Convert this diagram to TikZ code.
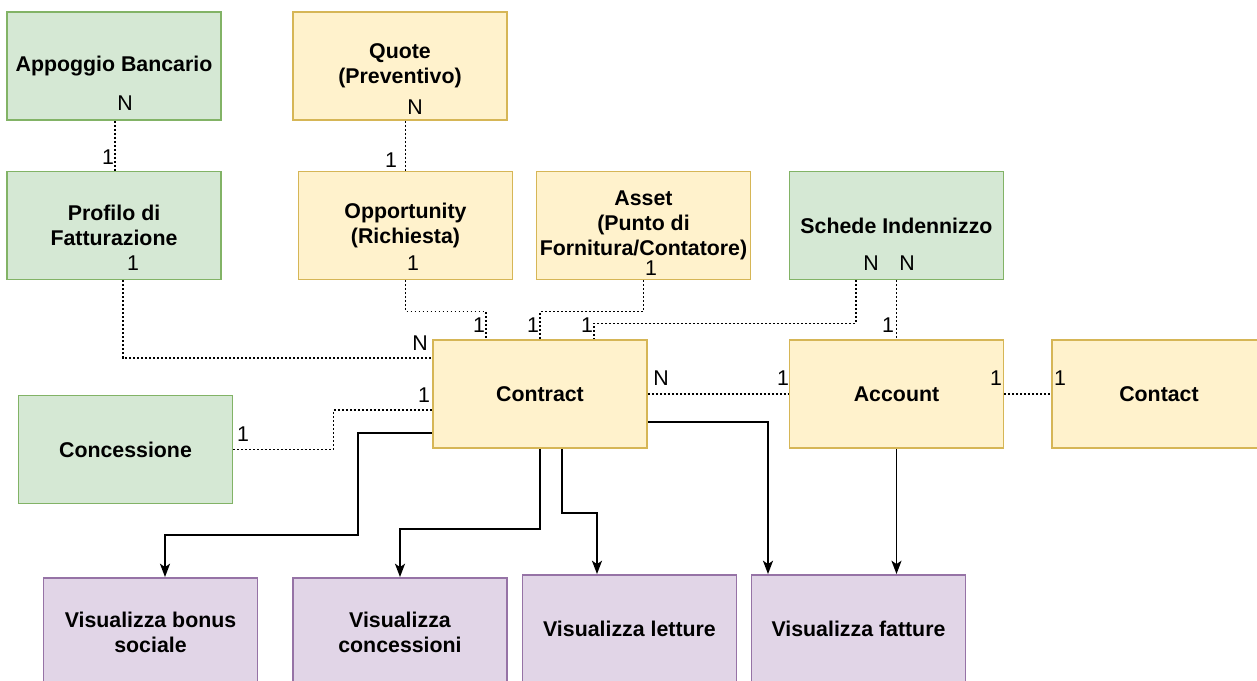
\documentclass[tikz,border=0pt]{standalone}
\usepackage{fontspec}
\setmainfont{Liberation Sans}
\usetikzlibrary{calc,arrows.meta}
\definecolor{gfill}{HTML}{D5E8D4}\definecolor{gline}{HTML}{82B366}
\definecolor{yfill}{HTML}{FFF2CC}\definecolor{yline}{HTML}{D6B656}
\definecolor{pfill}{HTML}{E1D5E7}\definecolor{pline}{HTML}{9673A6}
\tikzset{
  box/.style={draw, line width=1.4pt, minimum width=160.5pt, minimum height=81pt, inner sep=0pt,
    align=center, font=\fontsize{16}{18.75}\selectfont\bfseries},
  gbox/.style={box, fill=gfill, draw=gline},
  ybox/.style={box, fill=yfill, draw=yline},
  pbox/.style={box, fill=pfill, draw=pline},
  rel/.style={line width=1.4pt, dash pattern=on 1.2pt off 1.8pt},
  arr/.style={line width=1.4pt, -{Stealth[length=10pt,width=7.5pt,inset=2.5pt]}},
  lbl/.style={inner sep=0pt, font=\fontsize{16}{18.75}\selectfont}
}
\begin{document}
\begin{tikzpicture}[x=0.75pt,y=-0.75pt]
\useasboundingbox (0,0) rectangle (1257,681);
\clip (0,0) rectangle (1257,681);
\fill[white] (0,0) rectangle (1257,681);
% boxes
\node[gbox] (app) at (114,66) {Appoggio Bancario};
\node[gbox] (prof) at (114,225.5) {Profilo di\\Fatturazione};
\node[ybox] (quote) at (400,66) {Quote\\(Preventivo)};
\node[ybox] (opp) at (405.5,225.5) {Opportunity\\(Richiesta)};
\node[ybox] (asset) at (643.5,225.5) {Asset\\(Punto di\\Fornitura/Contatore)};
\node[gbox] (schede) at (896.5,225.5) {Schede Indennizzo};
\node[ybox] (contract) at (540,394) {Contract};
\node[ybox] (account) at (896.5,394) {Account};
\node[ybox] (contact) at (1159,394) {Contact};
\node[gbox] (conc) at (125.5,449.5) {Concessione};
\node[pbox] (bonus) at (150.5,632) {Visualizza bonus\\sociale};
\node[pbox] (vconc) at (400,632) {Visualizza\\concessioni};
\node[pbox] (letture) at (629.5,629) {Visualizza letture};
\node[pbox] (fatture) at (858.5,629) {Visualizza fatture};
% relations (dotted)
\draw[rel] ($(app.south)+(1,0)$) -- ($(prof.north)+(1,0)$);
\draw[rel] (opp.north |- quote.south) -- (opp.north);
\draw[rel] ($(prof.south)+(9,0)$) |- ($(contract.west)+(0,-36)$);
\draw[rel] (opp.south) -- ++(0,31) -| ($(contract.north)+(-54,0)$);
\draw[rel] (asset.south) -- ++(0,31) -| (contract.north);
\draw[rel] ($(schede.south)+(-40.5,0)$) -- ++(0,43) -| ($(contract.north)+(54,0)$);
\draw[rel] (schede.south) -- (account.north);
\draw[rel] (conc.east) -- ++(100,0) |- ($(contract.west)+(0,16)$);
\draw[rel] (contract.east) -- (account.west);
\draw[rel] (account.east) -- (contact.west);
% arrows
\draw[arr] ($(contract.west)+(0,39)$) -- ++(-74,0) -- ++(0,102) -| ($(bonus.north)+(14.5,0)$);
\draw[arr] (contract.south) -- ++(0,80) -| (vconc.north);
\draw[arr] ($(contract.south)+(22,0)$) -- ++(0,64) -| ($(letture.north)+(-32.5,0)$);
\draw[arr] ($(contract.east)+(0,28)$) -| ($(fatture.north)+(-90.5,0)$);
\draw[arr] (account.south) -- (account.south |- fatture.north);
% cardinality labels
\node[lbl] (l1) at (125,103) {N};
\node[lbl] (l2) at (108,157) {1};
\node[lbl] (l3) at (415,107) {N};
\node[lbl] (l4) at (391,160) {1};
\node[lbl] (l5) at (133,263) {1};
\node[lbl] (l6) at (420,343) {N};
\node[lbl] (l7) at (413,263) {1};
\node[lbl] (l8) at (479,325) {1};
\node[lbl] (l9) at (651,268) {1};
\node[lbl] (l10) at (533,325) {1};
\node[lbl] (l11) at (871,263) {N};
\node[lbl] (l12) at (587,325) {1};
\node[lbl] (l13) at (907,263) {N};
\node[lbl] (l14) at (888,325) {1};
\node[lbl] (l15) at (243,434) {1};
\node[lbl] (l16) at (424,395) {1};
\node[lbl] (l17) at (661,378) {N};
\node[lbl] (l18) at (783,378) {1};
\node[lbl] (l19) at (996,378) {1};
\node[lbl] (l20) at (1060,378) {1};
\end{tikzpicture}
\end{document}
